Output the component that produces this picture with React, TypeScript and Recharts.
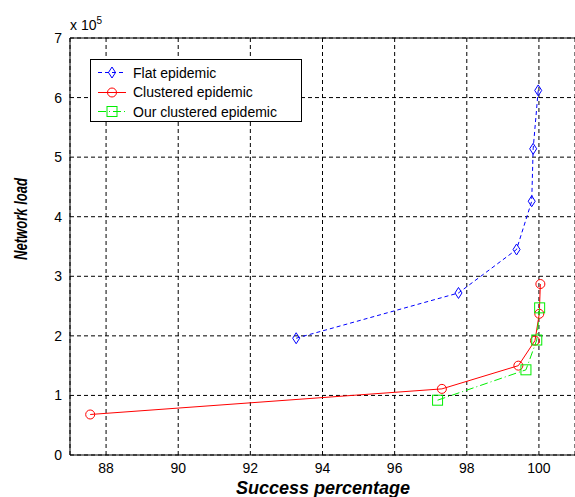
import React from 'react';
import {
  ScatterChart,
  Scatter,
  XAxis,
  YAxis,
  CartesianGrid,
  ReferenceLine
} from 'recharts';

// values (network load in raw units, axis shows x 10^5)
const flatX = [93.27, 97.77, 99.38, 99.8, 99.84, 99.98];
const flatY = [196000, 272000, 345000, 426000, 514000, 612000];

const clusteredX = [87.56, 97.31, 99.43, 99.89, 100.01, 100.04];
const clusteredY = [68000, 111000, 150000, 192000, 237000, 287000];

const ourX = [97.19, 99.64, 99.94, 100.02];
const ourY = [92000, 143000, 193000, 247000];

const xTicks = [88, 90, 92, 94, 96, 98, 100];
const yTicks = [0, 100000, 200000, 300000, 400000, 500000, 600000, 700000];

const seriesNames = ['Flat epidemic', 'Clustered epidemic', 'Our clustered epidemic'];

const toPoints = (xs: number[], ys: number[]) => xs.map((x, i) => ({ x, y: ys[i] }));

const flatData = toPoints(flatX, flatY);
const clusteredData = toPoints(clusteredX, clusteredY);
const ourData = toPoints(ourX, ourY);

const BLUE = '#0000ff';
const RED = '#ff0000';
const GREEN = '#00ee00';
const FONT = 'Arial, "Liberation Sans", Helvetica, sans-serif';

const Diamond = (props: any) => {
  const { cx, cy } = props;
  return (
    <path
      d={`M${cx},${cy - 5.5} L${cx + 3.5},${cy} L${cx},${cy + 5.5} L${cx - 3.5},${cy} Z`}
      fill="none"
      stroke={BLUE}
      strokeWidth={1}
    />
  );
};

const Ring = (props: any) => {
  const { cx, cy } = props;
  return <circle cx={cx} cy={cy} r={4.5} fill="none" stroke={RED} strokeWidth={1} />;
};

const Box = (props: any) => {
  const { cx, cy } = props;
  return <rect x={cx - 5} y={cy - 5} width={10} height={10} fill="none" stroke={GREEN} strokeWidth={1} />;
};

const YLabel = () => (
  <text
    x={27}
    y={219}
    transform="rotate(-90 27 219)"
    textAnchor="middle"
    fontFamily={FONT}
    fontSize={18}
    fontWeight="bold"
    fontStyle="italic"
    fill="#000"
    textLength={82}
    lengthAdjust="spacingAndGlyphs"
  >
    Network load
  </text>
);

const XLabel = () => (
  <text
    x={323}
    y={494}
    textAnchor="middle"
    fontFamily={FONT}
    fontSize={18}
    fontWeight="bold"
    fontStyle="italic"
    fill="#000"
  >
    Success percentage
  </text>
);

const legendRows = [
  { name: seriesNames[0], color: BLUE, dash: '4 3', marker: 'diamond' },
  { name: seriesNames[1], color: RED, dash: undefined, marker: 'circle' },
  { name: seriesNames[2], color: GREEN, dash: '8 3 1 3', marker: 'square' }
];

const LegendBox = () => (
  <div
    style={{
      position: 'absolute',
      left: 90,
      top: 59,
      width: 210,
      height: 61,
      border: '1px solid #000',
      background: '#fff',
      fontFamily: FONT,
      fontSize: 14,
      color: '#000'
    }}
  >
    {legendRows.map((r, i) => (
      <div
        key={r.name}
        style={{ position: 'absolute', left: 0, top: 3 + i * 19.5, height: 19, display: 'flex', alignItems: 'center' }}
      >
        <svg width={40} height={19} style={{ display: 'block' }}>
          <line x1={7} y1={9.5} x2={35} y2={9.5} stroke={r.color} strokeDasharray={r.dash} />
          {r.marker === 'diamond' && <Diamond cx={21} cy={9.5} />}
          {r.marker === 'circle' && <Ring cx={21} cy={9.5} />}
          {r.marker === 'square' && <Box cx={21} cy={9.5} />}
        </svg>
        <span style={{ marginLeft: 2, whiteSpace: 'nowrap' }}>{r.name}</span>
      </div>
    ))}
  </div>
);

const App: React.FC = () => {
  return (
    <div style={{ position: 'absolute', left: 0, top: 0, width: 575, height: 497, background: '#fff' }}>
      <ScatterChart width={575} height={497} margin={{ top: 38, right: 0, bottom: 0, left: 0 }}>
        <CartesianGrid stroke="#000" strokeDasharray="4 3" />
        <XAxis
          type="number"
          dataKey="x"
          domain={[87, 101]}
          ticks={xTicks}
          allowDataOverflow
          height={42}
          tickLine={false}
          axisLine={{ stroke: '#000' }}
          tick={{ fontSize: 14, fill: '#000', fontFamily: FONT }}
          label={<XLabel />}
        />
        <YAxis
          type="number"
          dataKey="y"
          domain={[0, 700000]}
          ticks={yTicks}
          allowDataOverflow
          width={70}
          tickLine={false}
          axisLine={{ stroke: '#000' }}
          tickFormatter={(v: number) => String(v / 100000)}
          tick={{ fontSize: 14, fill: '#000', fontFamily: FONT }}
          label={<YLabel />}
        />
        <ReferenceLine y={700000} stroke="#000" />
        <Scatter
          name={seriesNames[0]}
          data={flatData}
          line={{ stroke: BLUE, strokeDasharray: '4 3', strokeWidth: 1 }}
          shape={<Diamond />}
          isAnimationActive={false}
        />
        <Scatter
          name={seriesNames[1]}
          data={clusteredData}
          line={{ stroke: RED, strokeWidth: 1 }}
          shape={<Ring />}
          isAnimationActive={false}
        />
        <Scatter
          name={seriesNames[2]}
          data={ourData}
          line={{ stroke: GREEN, strokeDasharray: '8 3 1 3', strokeWidth: 1 }}
          shape={<Box />}
          isAnimationActive={false}
        />
      </ScatterChart>
      <div
        style={{ position: 'absolute', left: 70, top: 15, fontFamily: FONT, fontSize: 14, color: '#000', whiteSpace: 'nowrap' }}
      >
        x 10<sup style={{ fontSize: 10 }}>5</sup>
      </div>
      <LegendBox />
    </div>
  );
};

export default App;
